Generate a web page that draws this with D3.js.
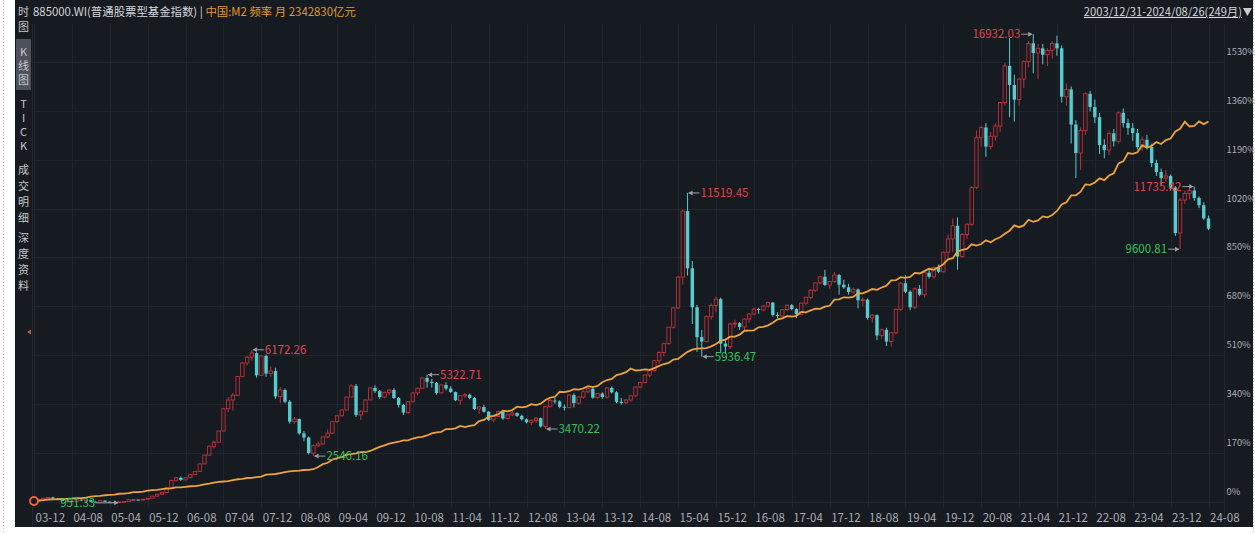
<!DOCTYPE html>
<html><head><meta charset="utf-8">
<script src="https://cdn.jsdelivr.net/npm/d3@7"></script>
<style>
html,body{margin:0;padding:0;background:#ffffff;overflow:hidden;}
svg{display:block;}
text{font-family:"Noto Sans CJK SC","Open Sans",sans-serif;}
</style></head><body>
<svg id="c" width="1255" height="534"></svg>
<script>
// ---- categories: monthly bars 2003-12 .. 2024-08 (249 months) ----
const months = d3.utcMonth.range(new Date(Date.UTC(2003, 11, 1)), new Date(Date.UTC(2024, 8, 1)))
  .map(d => d3.utcFormat("%Y-%m")(d));

// ---- 885000.WI monthly OHLC ----
const open = [
 995,
 1000,1052,1112,1138,1095,1078,1018,1020,1002,1062,1030,1042,
 992,972,1030,990,985,968,985,998,1060,1065,1050,1075,
 1110,1182,1248,1305,1480,1720,1805,1735,1810,1915,2025,2280,
 2580,2880,3020,3400,4160,4460,4620,5260,5720,5920,6060,5300,
 5960,5360,5450,4580,4800,4400,3720,3810,3320,3180,2650,2900,
 2960,3200,3330,3720,3920,4120,4560,4940,3950,4060,4460,4870,
 4760,4560,4720,4800,4530,4290,4030,4400,4700,4860,5210,5080,
 5040,4700,4970,4850,4730,4450,4600,4640,4530,4150,4220,4060,
 3780,3900,4060,3830,3950,4010,3920,3800,3700,3760,3840,3560,
 4240,4440,4410,4230,4200,4630,4350,4560,4740,4840,4540,4680,
 4560,4870,4720,4400,4360,4460,4600,4900,5050,5310,5460,5800,
 6080,6380,6940,7600,8650,10900,8950,7620,6600,6450,7300,7680,
 7900,6380,6280,7050,7080,6950,7220,7390,7560,7530,7660,7780,
 7360,7320,7540,7690,7560,7380,7760,7960,8200,8450,8660,8380,
 8500,8720,8390,8300,8140,8230,7860,7880,7260,7350,6660,6850,
 6450,6750,7550,8440,8150,7620,8250,8050,8800,8660,8980,8830,
 9500,9950,10400,9350,10100,10450,11700,13400,13750,13100,13450,13800,
 14600,15850,15200,14700,15400,16000,16620,16290,16450,16230,16380,16620,
 16450,14800,15050,13850,12880,13650,14900,14450,14100,13150,12980,13550,
 13280,14250,13900,13730,13560,13083,13330,13083,12538,12230,12026,12100,
 11700,10150,11276,11500,11600,11350,11100,10650
];
const high = [
 1004,
 1060,1120,1150,1160,1110,1085,1040,1030,1075,1070,1055,1048,
 1000,1040,1035,1010,992,995,1005,1068,1078,1070,1082,1115,
 1190,1260,1320,1490,1740,1830,1850,1820,1930,2040,2300,2600,
 2920,3080,3420,4180,4560,4700,5280,5760,5960,6172.26,6090,5980,
 6010,5600,5560,4900,4850,4460,3880,3830,3400,3220,2950,3050,
 3220,3450,3750,3950,4150,4580,5000,5000,4120,4480,4900,4960,
 4800,4740,4830,4860,4560,4330,4420,4720,4880,5230,5322.71,5180,
 5070,4990,5060,4930,4750,4620,4700,4680,4560,4260,4290,4080,
 3920,4100,4120,3980,4080,4040,3960,3830,3800,3870,3860,4260,
 4480,4540,4450,4300,4650,4680,4580,4780,4900,4920,4700,4720,
 4900,4920,4760,4530,4480,4620,4920,5080,5330,5480,5820,6120,
 6420,6960,7620,8700,10950,11519.45,9200,7700,6850,7350,7750,7980,
 7950,6500,7100,7200,7120,7250,7420,7600,7600,7700,7820,7800,
 7450,7560,7720,7730,7580,7780,7990,8230,8470,8680,8900,8520,
 8820,8760,8560,8420,8300,8260,7950,7920,7400,7380,6900,6920,
 6780,7580,8480,8720,8200,8300,8380,8830,8950,9020,9080,9520,
 10100,10650,10680,10150,10500,11750,13650,13800,13900,13600,13900,14620,
 15950,16800,15550,15450,16050,16700,16932.03,16600,16600,16450,16700,16880,
 16550,15250,15150,14000,13750,14950,15000,14700,14250,13350,13650,13700,
 14300,14400,14050,13900,13700,13450,13500,13200,12650,12350,12300,12150,
 11750,11350,11600,11700,11735.42,11400,11200,10750
];
const low = [
 993,
 995,1045,1098,1080,1055,1005,998,985,990,1020,1015,985,
 960,965,985,970,955,951.33,970,992,1040,1030,1042,1068,
 1105,1170,1235,1300,1470,1690,1700,1715,1795,1900,2010,2270,
 2550,2800,3000,3390,4050,4100,4600,5240,5640,5800,5220,5280,
 5250,5250,4500,4350,4350,3650,3650,3280,3050,2600,2546.16,2850,
 2940,3150,3300,3680,3900,4100,4550,3880,3780,4050,4450,4700,
 4500,4520,4640,4500,4200,3950,3980,4380,4620,4840,4880,4880,
 4640,4680,4780,4700,4420,4300,4520,4480,4120,3980,4030,3740,
 3700,3880,3780,3800,3900,3880,3760,3660,3600,3700,3520,3470.22,
 4200,4330,4180,4100,4180,4200,4300,4500,4680,4500,4500,4500,
 4520,4680,4350,4300,4320,4400,4560,4860,5030,5240,5420,5700,
 5950,6350,6900,7560,8400,8700,7050,6100,5936.47,6420,7200,7450,
 6050,6030,6200,6920,6850,6820,7100,7350,7400,7480,7600,7300,
 7250,7300,7500,7520,7250,7360,7680,7900,8150,8400,8350,8250,
 8450,8050,8250,8050,8080,7580,7650,7200,7100,6500,6550,6300,
 6280,6700,7480,8100,7520,7550,8000,7950,8600,8600,8780,8800,
 9300,9500,8900,9300,9950,10400,11650,13100,12750,13000,13300,13600,
 14500,14100,13950,14500,15100,15800,15600,15400,15900,15850,16100,16200,
 14600,14500,13200,12030,12300,13500,14300,13900,12850,12700,12800,13100,
 13200,13750,13500,13300,13000,12950,13000,12400,12100,11800,11900,11600,
 10050,9600.81,11150,11300,11250,11000,10600,10250
];
const close = [
 1000,
 1052,1112,1138,1095,1078,1018,1020,1002,1062,1030,1042,992,
 972,1030,990,985,968,985,998,1060,1065,1050,1075,1110,
 1182,1248,1305,1480,1720,1805,1735,1810,1915,2025,2280,2580,
 2880,3020,3400,4160,4460,4620,5260,5720,5920,6060,5300,5960,
 5360,5450,4580,4800,4400,3720,3810,3320,3180,2650,2900,2960,
 3200,3330,3720,3920,4120,4560,4940,3950,4060,4460,4870,4760,
 4560,4720,4800,4530,4290,4030,4400,4700,4860,5210,5080,5040,
 4700,4970,4850,4730,4450,4600,4640,4530,4150,4220,4060,3780,
 3900,4060,3830,3950,4010,3920,3800,3700,3760,3840,3560,4240,
 4440,4410,4230,4200,4630,4350,4560,4740,4840,4540,4680,4560,
 4870,4720,4400,4360,4460,4600,4900,5050,5310,5460,5800,6080,
 6380,6940,7600,8650,10900,8950,7620,6600,6450,7300,7680,7900,
 6380,6280,7050,7080,6950,7220,7390,7560,7530,7660,7780,7360,
 7320,7540,7690,7560,7380,7760,7960,8200,8450,8660,8380,8500,
 8720,8390,8300,8140,8230,7860,7880,7260,7350,6660,6850,6450,
 6750,7550,8440,8150,7620,8250,8050,8800,8660,8980,8830,9500,
 9950,10400,9350,10100,10450,11700,13400,13750,13100,13450,13800,14600,
 15850,15200,14700,15400,16000,16620,16290,16450,16230,16380,16620,16450,
 14800,15050,13850,12880,13650,14900,14450,14100,13150,12980,13550,13280,
 14250,13900,13730,13560,13083,13330,13083,12538,12230,12026,12100,11700,
 10150,11276,11500,11600,11350,11100,10650,10300
];
const indexBase = 981;          // reference level of the 0% line

// ---- 中国:M2 monthly (亿元) ----
const m2Base = 214400;          // level the overlay percentage is measured from
const m2 = [
 221223,
 227100,227800,231700,233600,234800,238400,238400,240400,243800,243800,247100,254107,
 257700,259400,264600,266900,269200,275800,276966,281300,287400,287600,291600,298756,
 303600,304500,310500,313700,316700,322800,324000,327800,331900,332700,337500,345604,
 351500,358700,364100,367300,369700,377800,383900,387200,393100,394200,399800,403442,
 417800,421000,423100,429300,436200,443100,446400,448800,452900,453100,458600,475167,
 496100,506700,530600,540500,548300,568900,571400,576700,585400,586600,594600,610225,
 625600,636100,649900,656200,663400,673900,674100,687500,696500,699800,710300,725852,
 733900,737100,758100,757400,763400,780800,772900,780900,787400,816800,825500,851590,
 855900,867200,895600,889600,900000,924500,919100,924900,943700,936400,947000,974149,
 992100,998600,1035900,1032600,1040000,1054400,1052200,1061300,1077400,1070200,1079300,1106525,
 1123500,1131800,1160700,1168800,1182100,1209600,1194200,1197400,1202100,1199200,1211900,1228375,
 1242700,1251000,1275300,1280200,1307900,1333400,1350300,1356900,1359800,1361000,1373900,1392278,
 1416300,1424300,1446200,1447100,1461100,1490500,1491600,1493800,1516400,1519500,1530400,1550067,
 1575900,1582900,1599600,1596600,1601400,1631300,1627200,1641900,1655700,1653400,1670000,1676768,
 1721800,1724800,1739900,1737800,1743100,1770200,1769000,1783900,1801700,1795600,1813200,1826744,
 1865900,1867500,1889400,1884700,1891500,1921400,1917300,1935200,1952100,1945600,1964400,1986489,
 2023100,2030800,2080900,2094000,2100000,2134900,2125500,2136800,2164100,2149700,2172100,2186796,
 2213000,2236000,2276000,2262100,2275500,2317800,2302200,2312200,2342830,2336200,2352900,2382900,
 2431000,2447300,2499300,2499700,2527100,2581500,2578100,2595100,2626600,2612800,2647000,2664320,
 2738100,2752500,2814600,2808500,2820500,2873000,2853700,2868900,2896700,2882300,2911300,2922700,
 2976200,2994900,3047900,3012500,3017100,3050200,3030100,3050500
];

// ---- tick labels ----
const xTickLabels = ["03-12","04-08","05-04","05-12","06-08","07-04","07-12","08-08","09-04","09-12",
  "10-08","11-04","11-12","12-08","13-04","13-12","14-08","15-04","15-12","16-08","17-04","17-12",
  "18-08","19-04","19-12","20-08","21-04","21-12","22-08","23-04","23-12","24-08"];
const yTickValues = [0,170,340,510,680,850,1020,1190,1360,1530];
const yTickLabels = ["0%","170%","340%","510%","680%","850%","1020%","1190%","1360%","1530%"];

// ---- extreme-value annotations (month, value, kind, side of label, arrow length) ----
const marks = [
 {m:"2005-06", v:951.33,   kind:"low",  side:"left",  len:22},
 {m:"2007-10", v:6172.26,  kind:"high", side:"right", len:11},
 {m:"2008-11", v:2546.16,  kind:"low",  side:"right", len:11},
 {m:"2010-11", v:5322.71,  kind:"high", side:"right", len:11},
 {m:"2012-12", v:3470.22,  kind:"low",  side:"right", len:11},
 {m:"2015-06", v:11519.45, kind:"high", side:"right", len:11},
 {m:"2015-09", v:5936.47,  kind:"low",  side:"right", len:11},
 {m:"2021-07", v:16932.03, kind:"high", side:"left",  len:11},
 {m:"2024-02", v:9600.81,  kind:"low",  side:"left",  len:11},
 {m:"2024-05", v:11735.42, kind:"high", side:"left",  len:11}
];

// ---- drawing ----
const svg = d3.select("#c");
const W = 1255, H = 534;
const C = {bg:"#161a21", grid:"#1f242d", up:"#bf323b", down:"#55cdd0", m2:"#eda33a",
           txt:"#a9adb5", hi:"#e2434b", lo:"#35c25d"};

svg.append("rect").attr("width",W).attr("height",H).attr("fill","#ffffff");
svg.append("line").attr("x1",3.5).attr("x2",3.5).attr("y1",0).attr("y2",H)
  .attr("stroke","#c8c8c8").attr("stroke-dasharray","1,2");
svg.append("line").attr("x1",1253.5).attr("x2",1253.5).attr("y1",0).attr("y2",H)
  .attr("stroke","#c8c8c8").attr("stroke-dasharray","1,2");
svg.append("rect").attr("x",15).attr("y",0).attr("width",1238).attr("height",527).attr("fill",C.bg);

const x = d3.scalePoint().domain(months).range([34, 1208.5]);
const yPct = d3.scaleLinear().domain([0, 1530]).range([502, 61.8]);
const yPrice = p => yPct((p / indexBase - 1) * 100);

// separators
svg.append("line").attr("x1",32.5).attr("x2",32.5).attr("y1",24).attr("y2",527).attr("stroke","#20252e");
svg.append("line").attr("x1",1224.5).attr("x2",1224.5).attr("y1",24).attr("y2",527).attr("stroke","#20252e");

// grid
const tickMonths = xTickLabels.map(l => "20" + l);
const gGrid = svg.append("g");
gGrid.selectAll("line.v").data(tickMonths).join("line")
  .attr("x1",d=>Math.round(x(d))+0.5).attr("x2",d=>Math.round(x(d))+0.5)
  .attr("y1",24).attr("y2",508).attr("stroke",C.grid);
gGrid.selectAll("line.h").data(yTickValues).join("line")
  .attr("x1",33).attr("x2",1224).attr("y1",d=>Math.round(yPct(d))+0.5).attr("y2",d=>Math.round(yPct(d))+0.5)
  .attr("stroke",C.grid);

// axis labels
const xAxis = d3.axisBottom(x).tickValues(tickMonths).tickFormat((d,i)=>xTickLabels[i]).tickSize(0);
const gx = svg.append("g").attr("transform","translate(0,515)").call(xAxis);
gx.select(".domain").remove();
gx.selectAll("text").attr("fill",C.txt).attr("font-size",11.5).attr("text-anchor","start").attr("dx",1).attr("dy","0.32em");

const yAxis = d3.axisRight(yPct).tickValues(yTickValues).tickFormat((d,i)=>yTickLabels[i]).tickSize(0).tickPadding(0);
const gy = svg.append("g").attr("transform","translate(1226.5,-10.5)").call(yAxis);
gy.select(".domain").remove();
gy.selectAll("text").attr("fill",C.txt).attr("font-size",9.4);

// candles
const bars = months.map((m,i)=>({m, o:open[i], h:high[i], l:low[i], c:close[i]}));
const bw = 3.4;
const gC = svg.append("g");
bars.forEach(b=>{
  const up = b.c >= b.o;
  const cx = x(b.m);
  const yo = yPrice(b.o), yc = yPrice(b.c), yh = yPrice(b.h), yl = yPrice(b.l);
  const top = Math.min(yo,yc), bot = Math.max(yo,yc);
  const col = up ? C.up : C.down;
  if (up) {
    gC.append("line").attr("x1",cx).attr("x2",cx).attr("y1",yh).attr("y2",top).attr("stroke",col).attr("stroke-width",1);
    gC.append("line").attr("x1",cx).attr("x2",cx).attr("y1",bot).attr("y2",yl).attr("stroke",col).attr("stroke-width",1);
    gC.append("rect").attr("x",cx-bw/2).attr("y",top).attr("width",bw).attr("height",Math.max(0.8,bot-top))
      .attr("fill","none").attr("stroke",col).attr("stroke-width",0.9);
  } else {
    gC.append("line").attr("x1",cx).attr("x2",cx).attr("y1",yh).attr("y2",yl).attr("stroke",col).attr("stroke-width",1);
    gC.append("rect").attr("x",cx-bw/2).attr("y",top).attr("width",bw).attr("height",Math.max(1,bot-top)).attr("fill",col);
  }
});

// M2 overlay
const line = d3.line().x((d,i)=>x(months[i])).y(d=>yPct((d/m2Base-1)*100));
svg.append("path").datum(m2).attr("d",line).attr("fill","none").attr("stroke",C.m2).attr("stroke-width",1.8);
svg.append("circle").attr("cx",x(months[0])).attr("cy",yPct((m2[0]/m2Base-1)*100)).attr("r",4)
  .attr("fill",C.bg).attr("stroke","#f0603a").attr("stroke-width",2);

// left marker
svg.append("path").attr("d","M27,332 L31,329.5 L31,334.5 Z").attr("fill","#c8583c");

// annotations
const gA = svg.append("g");
marks.forEach(mk=>{
  const cx = x(mk.m), yy = yPrice(mk.v);
  const col = mk.kind==="high" ? C.hi : C.lo;
  const lab = mk.v.toFixed(2);
  const L = mk.len;
  if (mk.side==="right") {
    gA.append("line").attr("x1",cx+1).attr("x2",cx+1+L).attr("y1",yy).attr("y2",yy).attr("stroke","#9a9ea6");
    gA.append("path").attr("d",`M${cx+1},${yy} l4,-2.5 l0,5 z`).attr("fill","#9a9ea6");
    gA.append("text").attr("x",cx+2+L).attr("y",yy).attr("dy","0.35em").attr("fill",col).attr("font-size",11.5).text(lab);
  } else {
    gA.append("line").attr("x1",cx-1-L).attr("x2",cx-1).attr("y1",yy).attr("y2",yy).attr("stroke","#9a9ea6");
    gA.append("path").attr("d",`M${cx-1},${yy} l-4,-2.5 l0,5 z`).attr("fill","#9a9ea6");
    gA.append("text").attr("x",cx-2-L).attr("y",yy).attr("dy","0.35em").attr("text-anchor","end").attr("fill",col).attr("font-size",11.5).text(lab);
  }
});

// header
const t = svg.append("text").attr("x",33).attr("y",12).attr("dy","0.35em").attr("font-size",11.4);
t.append("tspan").attr("fill","#d4d6da").text("885000.WI(普通股票型基金指数) | ");
t.append("tspan").attr("fill","#e09a2c").text("中国:M2 频率 月 2342830亿元");

svg.append("text").attr("x",1242).attr("y",12).attr("dy","0.35em").attr("text-anchor","end")
  .attr("font-size",11.2).attr("fill","#d4d6da").attr("text-decoration","underline").text("2003/12/31-2024/08/26(249月)");
svg.append("path").attr("d","M1243,8 L1252,8 L1247.5,16 Z").attr("fill","#c9ccd2");

// left menu
svg.append("rect").attr("x",16).attr("y",39).attr("width",15).attr("height",51).attr("fill","#4c515b");
const menu = [["时",12],["图",27],["K",52],["线",66],["图",80],["T",104],["I",118],["C",132],["K",146],
  ["成",170],["交",186],["明",202],["细",218],["深",238],["度",254],["资",270],["料",286]];
svg.append("g").selectAll("text").data(menu).join("text")
  .attr("x",23.5).attr("y",d=>d[1]).attr("dy","0.35em").attr("text-anchor","middle")
  .attr("font-size",11).attr("fill","#c4c7cc").text(d=>d[0]);
</script>
</body></html>
